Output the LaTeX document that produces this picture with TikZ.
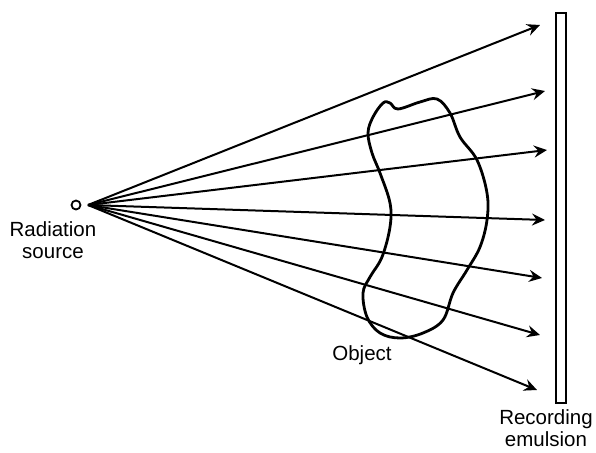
\documentclass[tikz,border=0pt]{standalone}
\usepackage{fontspec}
\setmainfont{Liberation Sans}
\usepackage{tikz}
\usetikzlibrary{positioning, arrows.meta}
\tikzset{
  ray/.style     = {-{Stealth[length=13pt, width=12pt, inset=4.5pt]}, line width=2pt},
  label/.style   = {font=\fontsize{20.5}{21.5}\selectfont, align=center, inner sep=0pt},
  emitter/.style = {circle, draw, line width=1.8pt, minimum size=9pt, inner sep=0pt},
  plate/.style   = {draw, line width=2pt, minimum width=10pt, minimum height=390pt, inner sep=0pt}
}

\begin{document}
\begin{tikzpicture}[x=1pt, y=-1pt]
        \useasboundingbox (0,0) rectangle (596,452);
        \node[emitter] (src) at (76,205) {};
        \coordinate (fan) at (88,205);
        \node[plate] (plate) at (561,208) {};
        % ray end points
        \coordinate (t1) at (540,25);
        \coordinate (t2) at (545,91);
        \coordinate (t3) at (547,150);
        \coordinate (t4) at (545,220);
        \coordinate (t5) at (542,278);
        \coordinate (t6) at (540,335);
        \coordinate (t7) at (537,390);
        \foreach \t in {t1,t2,t3,t4,t5,t6,t7}
          \draw[ray] (fan) -- (\t);
        % object outline
        \draw[line width=2.8pt] plot[smooth cycle, tension=0.6] coordinates {
          (383,103) (390,103) (398,109) (420,102) (437,99) (450,113) (460,137)
          (477,160) (487,193) (487,220) (480,247) (467,270) (453,293) (443,320)
          (423,333) (400,338) (380,333) (367,317) (363,293) (370,277) (382,257)
          (390,227) (390,203) (380,173) (372,153) (368,133) (373,117)};
        \node[label] (srclabel) at (53,240) {Radiation\\source};
        \node[label] (objlabel) at (362,355) {Object};
        \node[label] (platelabel) at (546,428) {Recording\\emulsion};
      \end{tikzpicture}
\end{document}
